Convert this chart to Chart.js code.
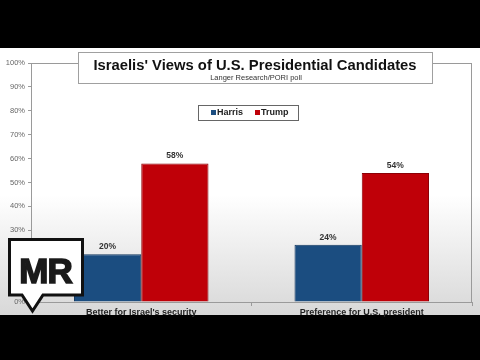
<!DOCTYPE html>
<html><head><meta charset="utf-8">
<script src="https://cdn.jsdelivr.net/npm/chart.js@4/dist/chart.umd.min.js"></script>
<style>
html,body{margin:0;padding:0;background:#000;width:480px;height:360px;overflow:hidden}
#wrap{position:relative;width:480px;height:360px}
canvas{position:absolute;left:0;top:0}
svg{position:absolute;left:0;top:0}
</style></head><body>
<div id="wrap"><canvas id="c" width="480" height="360"></canvas>
<svg width="480" height="360" viewBox="0 0 480 360">
<path d="M9.5,239.5 H82.5 V295 H43 L32.5,311 L22,295 H9.5 Z" fill="#fff" stroke="#111" stroke-width="3" stroke-linejoin="miter"/>
<text x="45.5" y="283" text-anchor="middle" font-family="Liberation Sans, Arial, sans-serif" font-weight="bold" font-size="35" fill="#1a1a1a" stroke="#1a1a1a" stroke-width="1.6" letter-spacing="-1">MR</text>
</svg></div>
<script>
const categories = ["Better for Israel's security", "Preference for U.S. president"];
const seriesNames = ["Harris", "Trump"];
const harrisValues = [20, 24];
const trumpValues = [58, 54];
const yTicks = [0,10,20,30,40,50,60,70,80,90,100];
const titleText = "Israelis' Views of U.S. Presidential Candidates";
const subtitleText = "Langer Research/PORI poll";

const blue = '#1b4d80', blueB = '#12375f';
const red = '#bf0008', redB = '#8c0006';

const bgPlugin = {
  id: 'bg',
  beforeDraw(chart) {
    const ctx = chart.ctx;
    ctx.save();
    ctx.fillStyle = '#000';
    ctx.fillRect(0,0,480,360);
    const g = ctx.createLinearGradient(0,48,0,315);
    g.addColorStop(0,'#ffffff');
    g.addColorStop(0.55,'#ffffff');
    g.addColorStop(1,'#d8d8d8');
    ctx.fillStyle = g;
    ctx.fillRect(0,48,480,267);
    ctx.restore();
  },
  afterDatasetsDraw(chart) {
    const ctx = chart.ctx, a = chart.chartArea;
    ctx.save();
    ctx.strokeStyle = '#9a9a9a';
    ctx.lineWidth = 1;
    ctx.strokeRect(Math.round(a.left)+0.5, Math.round(a.top)+0.5, Math.round(a.right-a.left)-1, Math.round(a.bottom-a.top));
    // data labels
    ctx.font = 'bold 8.5px "Liberation Sans", Arial, sans-serif';
    ctx.fillStyle = '#333';
    ctx.textAlign = 'center';
    ctx.textBaseline = 'bottom';
    chart.data.datasets.forEach((ds, di) => {
      chart.getDatasetMeta(di).data.forEach((bar, i) => {
        ctx.fillText(ds.data[i] + '%', bar.x, bar.y - 3);
      });
    });
    // title box
    ctx.fillStyle = '#fff';
    ctx.fillRect(78.5, 52.5, 354, 31);
    ctx.strokeStyle = '#a0a0a0';
    ctx.strokeRect(78.5, 52.5, 354, 31);
    ctx.fillStyle = '#111';
    ctx.textBaseline = 'middle';
    ctx.font = 'bold 14.8px "Liberation Sans", Arial, sans-serif';
    ctx.fillText(titleText, 255, 66);
    ctx.font = '7.5px "Liberation Sans", Arial, sans-serif';
    ctx.fillStyle = '#333';
    ctx.fillText(subtitleText, 256, 77.5);
    // legend box
    ctx.fillStyle = '#fff';
    ctx.fillRect(198.5, 105.5, 100, 15);
    ctx.strokeStyle = '#666';
    ctx.strokeRect(198.5, 105.5, 100, 15);
    ctx.font = 'bold 9px "Liberation Sans", Arial, sans-serif';
    ctx.textAlign = 'left';
    const items = [[211, 217, 0], [255, 261, 1]];
    items.forEach(([sx, tx, di]) => {
      const ds = chart.data.datasets[di];
      ctx.fillStyle = ds.backgroundColor;
      ctx.fillRect(sx, 110, 5, 5);
      ctx.fillStyle = '#222';
      ctx.fillText(ds.label, tx, 113);
    });
    ctx.restore();
  }
};

new Chart(document.getElementById('c'), {
  type: 'bar',
  data: {
    labels: categories,
    datasets: [
      {label: seriesNames[0], data: harrisValues, backgroundColor: blue, borderColor: blueB, borderWidth: 1, categoryPercentage: 0.61, barPercentage: 1},
      {label: seriesNames[1], data: trumpValues, backgroundColor: red, borderColor: redB, borderWidth: 1, categoryPercentage: 0.61, barPercentage: 1}
    ]
  },
  options: {
    responsive: false,
    animation: false,
    devicePixelRatio: 1,
    layout: {padding: {left: 5, right: 8, top: 63, bottom: 0}},
    plugins: {legend: {display: false}, title: {display: false}, tooltip: {enabled: false}},
    scales: {
      x: {
        grid: {display: true, drawOnChartArea: false, drawTicks: true, tickLength: 4, color: '#9a9a9a', offset: true},
        border: {display: true, color: '#9a9a9a'},
        ticks: {color: '#222', font: {family: '"Liberation Sans", Arial, sans-serif', size: 9, weight: 'bold'}, padding: 1, maxRotation: 0},
        afterFit(s) { s.height = 58; }
      },
      y: {
        min: 0, max: 100,
        afterBuildTicks(s) { s.ticks = yTicks.map(v => ({value: v})); },
        grid: {display: true, drawOnChartArea: false, drawTicks: true, tickLength: 3, color: '#9a9a9a'},
        border: {display: true, color: '#9a9a9a'},
        ticks: {color: '#666', font: {family: '"Liberation Sans", Arial, sans-serif', size: 7.5}, padding: 3, callback: v => v + '%'},
        afterFit(s) { s.width = 26; }
      }
    }
  },
  plugins: [bgPlugin]
});
</script>
</body></html>
